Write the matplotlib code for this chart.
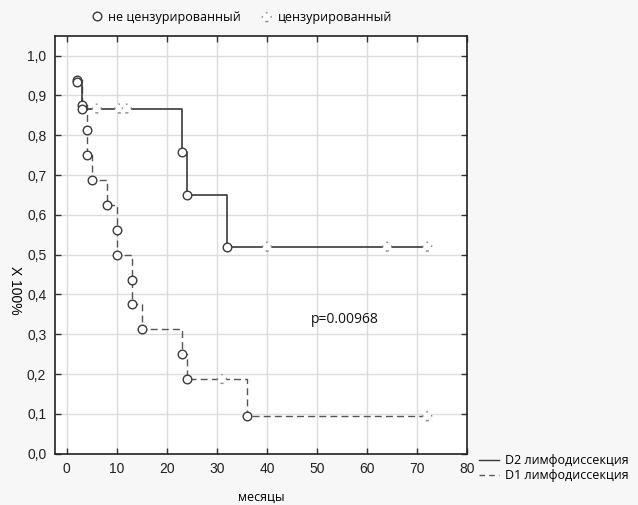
import matplotlib
matplotlib.use("Agg")
import matplotlib.pyplot as plt
from matplotlib.lines import Line2D
from matplotlib.ticker import FuncFormatter

# ---- data ----
d2_times = [2, 3, 23, 24, 32]
d2_surv = [0.933, 0.867, 0.758, 0.650, 0.520]
d2_cens_times = [6, 10.5, 12, 40, 64, 72]
d2_cens_surv = [0.867, 0.867, 0.867, 0.520, 0.520, 0.520]

d1_times = [2, 3, 4, 4, 5, 8, 10, 10, 13, 13, 15, 23, 24, 36]
d1_surv = [0.9375, 0.875, 0.8125, 0.75, 0.6875, 0.625, 0.5625, 0.5,
           0.4375, 0.375, 0.3125, 0.25, 0.1875, 0.094]
d1_cens_times = [31, 72]
d1_cens_surv = [0.1875, 0.094]

series_labels = ["D2 лимфодиссекция", "D1 лимфодиссекция"]
marker_labels = ["не цензурированный", "цензурированный"]
x_ticks = [0, 10, 20, 30, 40, 50, 60, 70, 80]
y_ticks = [0.0, 0.1, 0.2, 0.3, 0.4, 0.5, 0.6, 0.7, 0.8, 0.9, 1.0]
p_text = "p=0.00968"
x_label = "месяцы"
y_label = "X 100%"

TXT = ["Open Sans", "DejaVu Sans"]
NUM = ["Liberation Sans", "DejaVu Sans"]

fig = plt.figure(figsize=(6.38, 5.05), dpi=100, facecolor="#f7f7f7")
ax = fig.add_axes([54.7 / 638, 1 - 453.7 / 505, (467.3 - 54.7) / 638, (453.7 - 35.7) / 505])
ax.set_facecolor("white")

ax.set_xlim(-2.4, 80)
ax.set_ylim(0, 1.05)
ax.set_xticks(x_ticks)
ax.set_yticks(y_ticks)
ax.yaxis.set_major_formatter(FuncFormatter(lambda v, p: f"{v:.1f}".replace(".", ",")))
ax.grid(True, color="#dcdcdc", linewidth=1.0)
ax.set_axisbelow(True)
ax.tick_params(direction="in", length=4, width=1, color="#333333",
               top=True, right=True, labelsize=10, pad=6)
for lab in ax.get_xticklabels() + ax.get_yticklabels():
    lab.set_family(NUM)
    lab.set_color("#222222")
for s in ax.spines.values():
    s.set_color("#222222")
    s.set_linewidth(1.2)

line_col = "#3a3a3a"
mk = dict(marker="o", markersize=6.2, markerfacecolor="white",
          markeredgecolor=line_col, markeredgewidth=1.0)
cens = dict(s=40, facecolors="white", edgecolors="#8a8a8a",
            linewidths=1.0, linestyles=[(0, (1.2, 3.5))])

# D1 dashed
ax.plot(d1_times + [d1_cens_times[-1]], d1_surv + [d1_surv[-1]],
        drawstyle="steps-post", color="#555555", linewidth=1.0,
        linestyle=(0, (5, 3)), zorder=3)
ax.scatter(d1_cens_times, d1_cens_surv, zorder=4, **cens)
ax.plot(d1_times, d1_surv, linestyle="none", zorder=5, **mk)

# D2 solid
ax.plot(d2_times + [d2_cens_times[-1]], d2_surv + [d2_surv[-1]],
        drawstyle="steps-post", color=line_col, linewidth=1.2, zorder=3)
ax.scatter(d2_cens_times, d2_cens_surv, zorder=4, **cens)
ax.plot(d2_times, d2_surv, linestyle="none", zorder=5, **mk)

ax.text(55.6, 0.338, p_text, fontsize=10, family=TXT, ha="center",
        va="center", color="#111111")

ax.set_xlabel(x_label, fontsize=9, family=TXT, labelpad=11)
fig.text(15 / 638, 1 - 290 / 505, y_label, rotation=270, fontsize=10,
         family=NUM, ha="center", va="center")

# top legend: marker types
h_unc = Line2D([], [], linestyle="none", **mk)
h_cen = ax.scatter([], [], **cens)
fig.legend([h_unc, h_cen], marker_labels, loc="center left",
           bbox_to_anchor=(79 / 638, 1 - 17 / 505), ncol=2, frameon=False,
           handlelength=1.0, handletextpad=0.4, columnspacing=1.6,
           prop={"family": TXT, "size": 9})

# bottom-right legend: series lines
h_d2 = Line2D([], [], color=line_col, linewidth=1.0)
h_d1 = Line2D([], [], color="#555555", linewidth=1.0, linestyle=(0, (4, 3)))
fig.legend([h_d2, h_d1], series_labels, loc="upper left",
           bbox_to_anchor=(474 / 638, 1 - 449 / 505), frameon=False,
           handlelength=1.6, handletextpad=0.5, labelspacing=0.2,
           borderaxespad=0, prop={"family": TXT, "size": 9})

fig.savefig("out.png", dpi=100, facecolor=fig.get_facecolor())
